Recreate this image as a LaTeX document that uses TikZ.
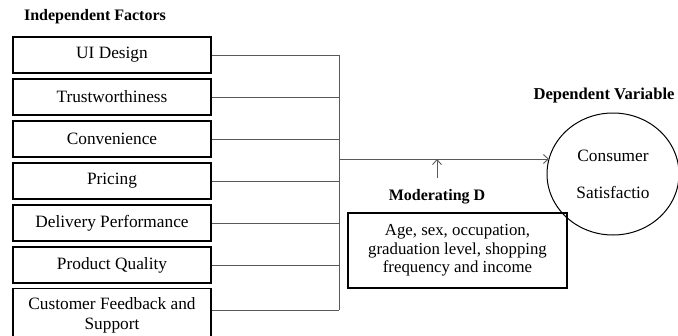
\documentclass[tikz,border=0pt]{standalone}
\usepackage{fontspec}
\setmainfont{Liberation Serif}
\usetikzlibrary{arrows.meta,shapes.geometric}
\begin{document}
\begin{tikzpicture}[x=1pt,y=-1pt,
  factor/.style={draw=black,line width=1.3pt,minimum width=198pt,minimum height=36pt,inner sep=0pt,
    font=\fontsize{17.3}{20}\selectfont,align=center},
  title/.style={font=\bfseries\fontsize{16}{19}\selectfont,inner sep=0pt},
  conn/.style={draw=black!65,line width=0.9pt},
  arr/.style={conn,-{Straight Barb[length=5pt,width=9pt]}}]
\useasboundingbox (0,0) rectangle (678,335);
\clip (0,0) rectangle (678,335);
\node[title] (indep) at (95,17) {Independent Factors};
\node[factor] (f1) at (112,55) {UI Design};
\node[factor] (f2) at (112,97) {Trustworthiness};
\node[factor] (f3) at (112,139) {Convenience};
\node[factor] (f4) at (112,181) {Pricing};
\node[factor] (f5) at (112,223) {Delivery Performance};
\node[factor] (f6) at (112,265) {Product Quality};
\node[factor,minimum height=54pt,anchor=north] (f7) at (112,288) {Customer Feedback and\\[0pt]Support};
\coordinate (b1) at (339,55);
\coordinate (b7) at (339,310);
\coordinate (bm) at (339,159);
\coordinate (am) at (437,159);
\foreach \i/\y in {1/55,2/97,3/139,4/181,5/223,6/265,7/310}{
  \draw[conn] (f\i.east |- 0,\y) -- (339,\y);
}
\draw[conn] (b1) -- (b7);
\node[draw=black,line width=1pt,ellipse,minimum width=132pt,minimum height=122pt,inner sep=0pt,
  font=\fontsize{17.3}{37}\selectfont,align=center] (cs) at (613,174) {Consumer\\Satisfactio};
\coordinate (ce) at (549,159);
\draw[arr] (bm) -- (ce);
\node[title,font=\bfseries\fontsize{16.6}{19}\selectfont] (dep) at (604,96) {Dependent Variable};
\node[title] (modl) at (437,197) {Moderating D};
\draw[arr] (437,178) -- (am);
\node[draw=black,line width=1.3pt,minimum width=219pt,minimum height=75pt,inner sep=0pt,
  font=\fontsize{16.8}{18.5}\selectfont,align=center] (mod) at (457.5,250.5)
  {Age, sex, occupation,\\graduation level, shopping\\frequency and income};
\end{tikzpicture}
\end{document}
